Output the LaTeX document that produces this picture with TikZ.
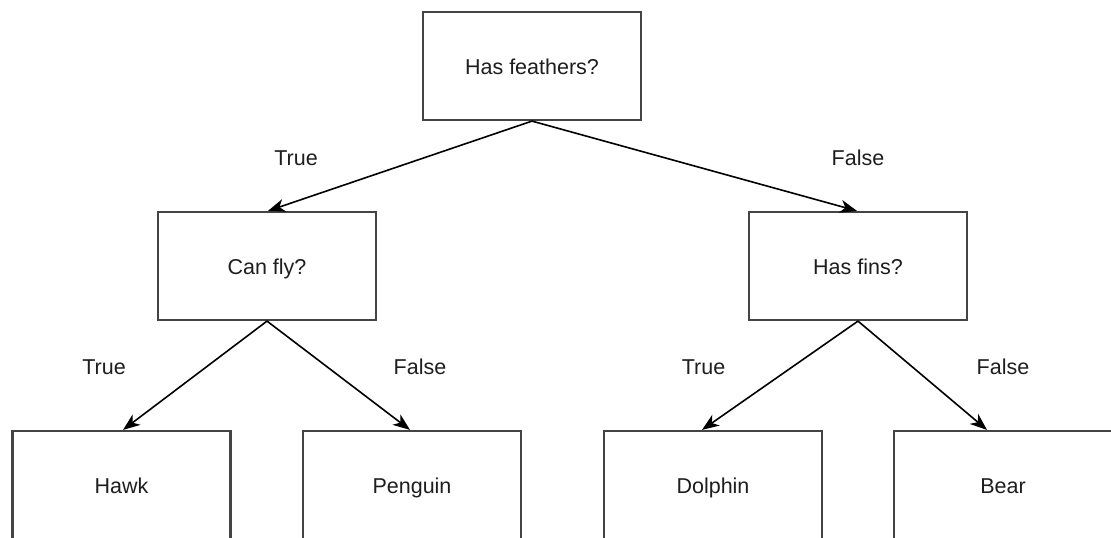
\documentclass[tikz,border=0pt]{standalone}
\usepackage{fontspec}
\setmainfont{Liberation Sans}
\usetikzlibrary{arrows.meta}
\definecolor{boxline}{HTML}{444444}
\definecolor{txt}{HTML}{1E1E1E}
\begin{document}
\begin{tikzpicture}[x=1pt,y=-1pt,
  box/.style={draw=boxline,line width=2.2pt,fill=white,minimum width=218pt,minimum height=108pt,inner sep=0pt,
    font=\fontsize{21.5}{25}\selectfont,text=txt,text height=16pt,text depth=0pt},
  lbl/.style={font=\fontsize{21.5}{25}\selectfont,text=txt,inner sep=0pt,text height=16pt,text depth=0pt},
  edge/.style={draw=black,line width=1.6pt,-{Stealth[length=17pt,width=13pt,inset=5pt]}}]
\useasboundingbox (0,0) rectangle (1111,538);
\node[box] (root) at (532,66) {Has feathers?};
\node[box] (canfly) at (267,266) {Can fly?};
\node[box] (hasfins) at (858,266) {Has fins?};
\node[box] (hawk) at (121.5,485) {Hawk};
\node[box] (penguin) at (412,485) {Penguin};
\node[box] (dolphin) at (713,485) {Dolphin};
\node[box] (bear) at (1003,485) {Bear};
\draw[edge] (root.south) -- ([xshift=1pt]canfly.north);
\draw[edge] (root.south) -- ([xshift=-1pt]hasfins.north);
\draw[edge] (canfly.south) -- ([xshift=1.5pt]hawk.north);
\draw[edge] (canfly.south) -- ([xshift=-2pt]penguin.north);
\draw[edge] (hasfins.south) -- ([xshift=-11pt]dolphin.north);
\draw[edge] (hasfins.south) -- ([xshift=-16pt]bear.north);
\node[lbl] (t1) at (296,157) {True};
\node[lbl] (f1) at (858,157) {False};
\node[lbl] (t2) at (104,366) {True};
\node[lbl] (f2) at (420,366) {False};
\node[lbl] (t3) at (703.5,366) {True};
\node[lbl] (f3) at (1003,366) {False};
\end{tikzpicture}
\end{document}
